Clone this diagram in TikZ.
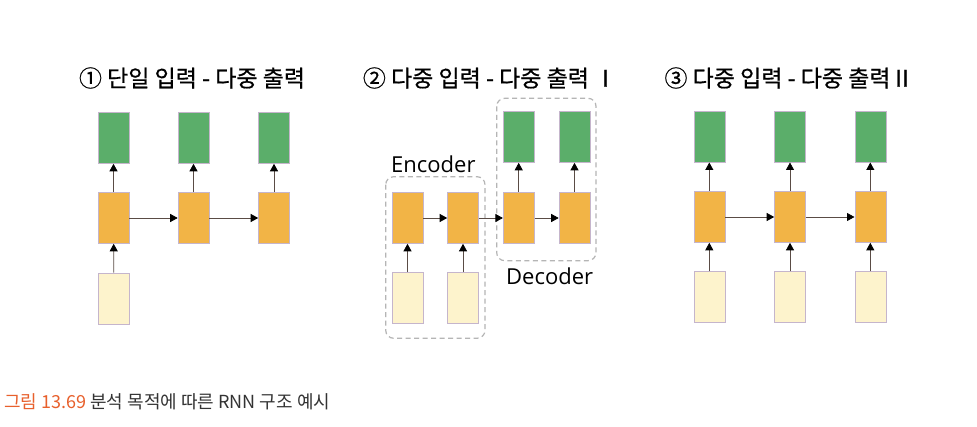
\documentclass[tikz,border=0pt]{standalone}
\usepackage{fontspec}
\newfontfamily\krfont{Noto Sans CJK KR}
\newfontfamily\krtitle[FakeBold=0.6]{Noto Sans CJK KR}
\newfontfamily\latfont{Open Sans}
\usetikzlibrary{arrows.meta}
\definecolor{cgreen}{HTML}{5BAE6A}
\definecolor{corange}{HTML}{F2B446}
\definecolor{cinput}{HTML}{FDF3CC}
\definecolor{cborder}{HTML}{C5B5CC}
\definecolor{carrow}{HTML}{5A4C45}
\definecolor{cdash}{HTML}{B5B5B5}
\definecolor{ccapred}{HTML}{E8602C}
\definecolor{ccaptxt}{HTML}{333333}
\tikzset{
  cell/.style={rectangle, draw=cborder, line width=0.6pt, minimum width=31pt, minimum height=51pt, inner sep=0pt},
  outcell/.style={cell, fill=cgreen},
  hidcell/.style={cell, fill=corange},
  incell/.style={cell, fill=cinput},
  conn/.style={draw=carrow, line width=0.8pt, -{Triangle[color=black,length=7.5pt,width=8pt]}},
  groupbox/.style={draw=cdash, line width=1.2pt, dash pattern=on 5pt off 3.5pt, rounded corners=8pt},
  ttl/.style={font=\krtitle\fontsize{23}{27}\selectfont, inner sep=0pt, text=black},
  lbl/.style={font=\latfont\fontsize{22}{26}\selectfont, inner sep=0pt, text=black},
}
\begin{document}
\begin{tikzpicture}[x=1pt,y=-1pt]
\useasboundingbox[fill=white] (0,0) rectangle (977,427);
% titles
\node[ttl] (t1) at (192,78) {① 단일 입력 - 다중 출력};
\node[ttl] (t2) at (490,78) {② 다중 입력 - 다중 출력 Ⅰ};
\node[ttl] (t3) at (789,78) {③ 다중 입력 - 다중 출력Ⅱ};
% panel 1
\node[outcell] (a1o) at (113.5,138) {};
\node[outcell] (a2o) at (193.5,138) {};
\node[outcell] (a3o) at (274,138) {};
\node[hidcell] (a1h) at (113.5,218) {};
\node[hidcell] (a2h) at (193.5,218) {};
\node[hidcell] (a3h) at (274,218) {};
\node[incell] (a1i) at (114,298.5) {};
\draw[conn] (a1i) -- (a1h);
\draw[conn] (a1h) -- (a1o);
\draw[conn] (a2h) -- (a2o);
\draw[conn] (a3h) -- (a3o);
\draw[conn] (a1h) -- (a2h);
\draw[conn] (a2h) -- (a3h);
% panel 2
\draw[groupbox] (385.7,176.7) rectangle (485,338.3);
\draw[groupbox] (496.7,98.3) rectangle (596,260.7);
\node[lbl, anchor=base west] (enc) at (391,173) {Encoder};
\node[lbl, anchor=base west] (dec) at (506,285) {Decoder};
\node[hidcell] (b1h) at (407.5,218) {};
\node[hidcell] (b2h) at (463,218) {};
\node[incell] (b1i) at (407.5,298) {};
\node[incell] (b2i) at (463,298) {};
\node[outcell] (b3o) at (518.7,137) {};
\node[outcell] (b4o) at (574.5,137) {};
\node[hidcell] (b3h) at (518.7,218) {};
\node[hidcell] (b4h) at (574.5,218) {};
\draw[conn] (b1i) -- (b1h);
\draw[conn] (b2i) -- (b2h);
\draw[conn] (b1h) -- (b2h);
\draw[conn] (b2h) -- (b3h);
\draw[conn] (b3h) -- (b4h);
\draw[conn] (b3h) -- (b3o);
\draw[conn] (b4h) -- (b4o);
% panel 3
\node[outcell] (c1o) at (709.3,136.7) {};
\node[outcell] (c2o) at (790,136.7) {};
\node[outcell] (c3o) at (870.3,136.7) {};
\node[hidcell] (c1h) at (709.3,217) {};
\node[hidcell] (c2h) at (790,217) {};
\node[hidcell] (c3h) at (870.3,217) {};
\node[incell] (c1i) at (709.3,297.2) {};
\node[incell] (c2i) at (790,297.2) {};
\node[incell] (c3i) at (870.3,297.2) {};
\foreach \k in {1,2,3}{
  \draw[conn] (c\k i) -- (c\k h);
  \draw[conn] (c\k h) -- (c\k o);
}
\draw[conn] (c1h) -- (c2h);
\draw[conn] (c2h) -- (c3h);
% caption
\node[anchor=west, inner sep=0pt, font=\krfont\fontsize{18}{21}\selectfont] (cap) at (4,401.7) {\textcolor{ccapred}{그림 13.69} \textcolor{ccaptxt}{분석 목적에 따른 RNN 구조 예시}};
\end{tikzpicture}
\end{document}
